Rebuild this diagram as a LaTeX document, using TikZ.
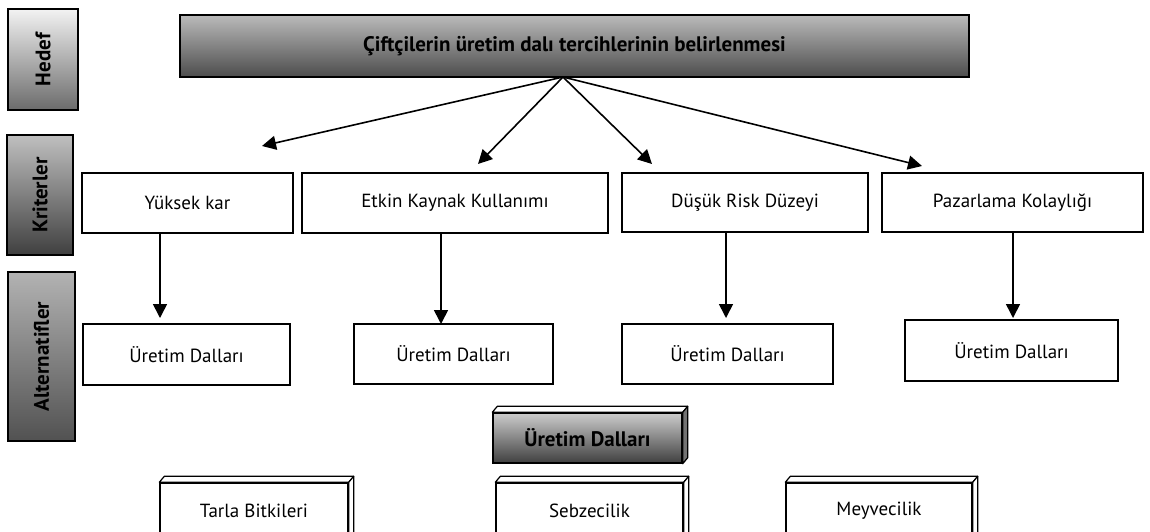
\documentclass[tikz,border=0pt]{standalone}
\usepackage{fontspec}
\setmainfont{PT Sans}
\usetikzlibrary{arrows.meta}

\tikzset{
	plainbox/.style={draw, line width=1.4pt, fill=white, inner sep=0pt, font=\fontsize{19}{22}\selectfont},
	levelbox/.style={draw, line width=1.4pt, inner sep=0pt, font=\bfseries\fontsize{21}{24}\selectfont},
	side3d/.style={draw, line width=1.2pt, line join=round},
	arr/.style={-{Triangle[length=14pt,width=14pt]}, line width=1.6pt},
}

\begin{document}
\begin{tikzpicture}[x=1pt, y=-1pt]
	\useasboundingbox (0,0) rectangle (1150,531);
	\clip (0,0) rectangle (1150,531);

	% levels on the left
	\node[levelbox, top color=black!5, bottom color=black!58, minimum width=70pt, minimum height=101pt] (hedef) at (43,59.5) {\rotatebox{90}{Hedef}};
	\node[levelbox, top color=black!25, bottom color=black!75, minimum width=66pt, minimum height=120pt] (kriter) at (40,195) {\rotatebox{90}{Kriterler}};
	\node[levelbox, top color=black!30, bottom color=black!68, minimum width=67pt, minimum height=169pt] (altern) at (41.5,356.5) {\rotatebox{90}{Alternatifler}};

	% goal
	\node[levelbox, top color=black!27, bottom color=black!70, minimum width=789pt, minimum height=62pt] (goal) at (574.5,46) {Çiftçilerin üretim dalı tercihlerinin belirlenmesi};

	% criteria
	\node[plainbox, minimum width=211pt, minimum height=60pt] (c1) at (187.5,203) {Yüksek kar};
	\node[plainbox, minimum width=306pt, minimum height=60pt] (c2) at (455,203) {Etkin Kaynak Kullanımı};
	\node[plainbox, minimum width=246pt, minimum height=59pt] (c3) at (745,202.5) {Düşük Risk Düzeyi};
	\node[plainbox, minimum width=261pt, minimum height=59pt] (c4) at (1012.5,202.5) {Pazarlama Kolaylığı};

	% alternatives
	\node[plainbox, minimum width=207pt, minimum height=61pt] (a1) at (186.5,354.5) {Üretim Dalları};
	\node[plainbox, minimum width=199pt, minimum height=60pt] (a2) at (453.5,354) {Üretim Dalları};
	\node[plainbox, minimum width=211pt, minimum height=60pt] (a3) at (727.5,354) {Üretim Dalları};
	\node[plainbox, minimum width=213pt, minimum height=61pt] (a4) at (1011.5,350.5) {Üretim Dalları};

	% production branches
	\node[levelbox, top color=black!20, bottom color=black!75, minimum width=189pt, minimum height=50pt] (head) at (587.5,438) {Üretim Dalları};
	\node[plainbox, minimum width=188pt, minimum height=56pt] (b1) at (254,511) {Tarla Bitkileri};
	\node[plainbox, minimum width=187pt, minimum height=56pt] (b2) at (589.5,511) {Sebzecilik};
	\node[plainbox, minimum width=186pt, minimum height=56pt] (b3) at (879,511) {Meyvecilik};

	\foreach \n/\c in {head/black!55, b1/white, b2/white, b3/white} {
		\draw[side3d, fill=white] (\n.north west) -- ([shift={(5,-6)}]\n.north west) -- ([shift={(5,-6)}]\n.north east) -- (\n.north east) -- cycle;
		\draw[side3d, fill=\c] (\n.north east) -- ([shift={(5,-6)}]\n.north east) -- ([shift={(5,-6)}]\n.south east) -- (\n.south east) -- cycle;
	}

	% arrows
	\coordinate (hub) at (563,77);
	\coordinate (t1) at (262,146);
	\coordinate (t2) at (478,164);
	\coordinate (t3) at (652,164);
	\coordinate (t4) at (922,166);
	\foreach \t in {t1,t2,t3,t4}
		\draw[arr] (hub) -- (\t);

	\coordinate (d1) at (160,318);
	\coordinate (d2) at (441,324);
	\coordinate (d3) at (726,318);
	\coordinate (d4) at (1013,318);
	\draw[arr] (c1.south -| d1) -- (d1);
	\draw[arr] (c2.south -| d2) -- (d2);
	\draw[arr] (c3.south -| d3) -- (d3);
	\draw[arr] (c4.south -| d4) -- (d4);
\end{tikzpicture}
\end{document}
